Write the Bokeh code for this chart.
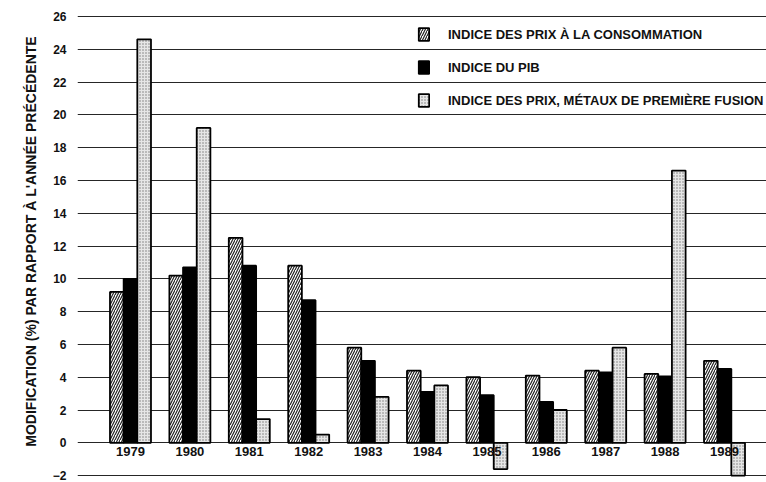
from bokeh.plotting import figure
from bokeh.models import ColumnDataSource, Legend, LegendItem, FixedTicker, Range1d
from bokeh.transform import dodge
from bokeh.core.properties import value
from bokeh.embed import file_html
from bokeh.resources import INLINE

# ---- data ----
years = [1979, 1980, 1981, 1982, 1983, 1984, 1985, 1986, 1987, 1988, 1989]
year_labels = [str(y) for y in years]
cpi = [9.2, 10.2, 12.5, 10.8, 5.8, 4.4, 4.0, 4.1, 4.4, 4.2, 5.0]
gdp = [10.0, 10.7, 10.8, 8.7, 5.0, 3.1, 2.9, 2.5, 4.3, 4.05, 4.5]
metals = [24.6, 19.2, 1.45, 0.5, 2.8, 3.5, -1.6, 2.0, 5.8, 16.6, -2.0]
y_ticks = [-2, 0, 2, 4, 6, 8, 10, 12, 14, 16, 18, 20, 22, 24, 26]
series_names = [
    "INDICE DES PRIX À LA CONSOMMATION",
    "INDICE DU PIB",
    "INDICE DES PRIX, MÉTAUX DE PREMIÈRE FUSION",
]
y_title = "MODIFICATION (%) PAR RAPPORT À L'ANNÉE PRÉCÉDENTE"

src = ColumnDataSource(dict(
    year=years, label=year_labels, cpi=cpi, gdp=gdp, metals=metals,
    base=[0] * len(years),
))

FONT = "Liberation Sans"

p = figure(
    width=766, height=482,
    x_range=Range1d(1978.108, 1989.707),
    y_range=Range1d(-2.42, 26.97),
    output_backend="svg", toolbar_location=None,
    min_border_left=77, min_border_right=0, min_border_top=0, min_border_bottom=0,
)
p.outline_line_color = None
p.background_fill_color = "white"
p.border_fill_color = "white"

# x axis hidden; year labels drawn as text just under the zero line
p.xaxis.visible = False
p.xgrid.visible = False

ya = p.yaxis[0]
ya.ticker = FixedTicker(ticks=y_ticks)
ya.axis_line_color = None
ya.major_tick_line_color = None
ya.minor_tick_line_color = None
ya.major_label_standoff = 5
ya.major_label_text_font = FONT
ya.major_label_text_font_style = "bold"
ya.major_label_text_font_size = "12px"
ya.major_label_text_color = "#111111"
ya.axis_label = y_title
ya.axis_label_text_font = FONT
ya.axis_label_text_font_style = "bold"
ya.axis_label_text_font_size = "14px"
ya.axis_label_text_color = "#111111"
ya.axis_label_standoff = 11

p.ygrid.ticker = FixedTicker(ticks=y_ticks)
p.ygrid.grid_line_color = "#262626"
p.ygrid.grid_line_width = 1.2

w = 0.23
r1 = p.vbar(x=dodge("year", -w, range=p.x_range), top="cpi", bottom="base", width=w,
            source=src, fill_color="white", line_color="black", line_width=1.8,
            hatch_pattern="right_diagonal_line", hatch_color="#222222",
            hatch_scale=5, hatch_weight=1.2)
r2 = p.vbar(x=dodge("year", 0, range=p.x_range), top="gdp", bottom="base", width=w,
            source=src, fill_color="black", line_color="black", line_width=1.8)
r3 = p.vbar(x=dodge("year", w, range=p.x_range), top="metals", bottom="base", width=w,
            source=src, fill_color="#e6e6e6", line_color="black", line_width=1.8,
            hatch_pattern="dot", hatch_color="#777777", hatch_scale=3, hatch_weight=1)

p.text(x="year", y="base", text="label", source=src, y_offset=4,
       text_align="center", text_baseline="top",
       text_font=value(FONT), text_font_style="bold", text_font_size="13px",
       text_color="#111111")

legend = Legend(
    items=[LegendItem(label=series_names[0], renderers=[r1]),
           LegendItem(label=series_names[1], renderers=[r2]),
           LegendItem(label=series_names[2], renderers=[r3])],
    location=(340, 374),
    orientation="vertical",
    glyph_width=13, glyph_height=16, label_height=16,
    label_standoff=18, spacing=17, padding=0, margin=0,
    label_text_font=FONT, label_text_font_style="bold", label_text_font_size="13px",
    label_text_color="#111111",
    background_fill_alpha=0, border_line_alpha=0,
)
p.add_layout(legend, "center")

open("out.html", "w").write(file_html(p, INLINE))
